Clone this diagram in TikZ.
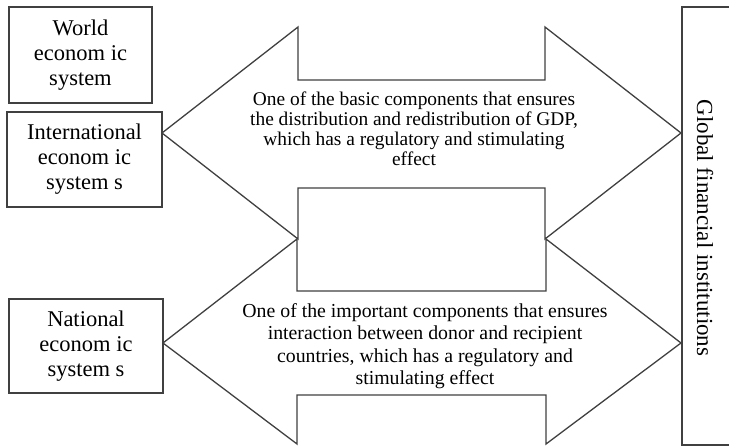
\documentclass[tikz,border=0pt]{standalone}
\usepackage{fontspec}
\setmainfont{Liberation Serif}
\usetikzlibrary{positioning}
\definecolor{Frame}{RGB}{64, 64, 64}

\tikzset{
    sysbox/.style={draw=Frame, line width=1.3pt, align=center, inner sep=0pt,
        font=\fontsize{22.5}{25}\selectfont},
    flowarrow/.style={draw=Frame, line width=1.3pt, fill=white, line join=miter},
    flowtext/.style={align=center, inner sep=0pt}
}

\begin{document}
\begin{tikzpicture}[x=1pt, y=-1pt]
    \useasboundingbox (0,0) rectangle (729,446);

    % two double-headed arrows
    \draw[flowarrow] (162,133) -- (298,27) -- (298,80) -- (545,80) -- (545,27) -- (681,133)
        -- (545,239) -- (545,188) -- (298,188) -- (298,239) -- cycle;
    \draw[flowarrow] (163,343) -- (297,239) -- (297,291) -- (546,291) -- (546,239) -- (681,343)
        -- (546,444) -- (546,395) -- (297,395) -- (297,444) -- cycle;

    % left side systems
    \node[sysbox, minimum width=143pt, minimum height=96pt] (world) at (80.5,55) {World\\econom ic\\system};
    \node[sysbox, minimum width=155pt, minimum height=95pt] (intl) at (84.5,159.5) {International\\econom ic\\system s};
    \node[sysbox, minimum width=154pt, minimum height=94pt] (natl) at (86,346) {National\\econom ic\\system s};

    % right side
    \node[draw=Frame, line width=1.3pt, minimum width=58pt, minimum height=438pt] (gfi) at (711,226) {};
    \node[rotate=-90, inner sep=0pt, font=\fontsize{23}{25}\selectfont] (gfitext) at (705,228) {Global financial institutions};

    % arrow texts
    \node[flowtext, font=\fontsize{19.4}{20}\selectfont] (upper) at (414,129)
        {One of the basic components that ensures\\the distribution and redistribution of GDP,\\which has a regulatory and stimulating\\effect};
    \node[flowtext, font=\fontsize{19.8}{22.5}\selectfont] (lower) at (425,346)
        {One of the important components that ensures\\interaction between donor and recipient\\countries, which has a regulatory and\\stimulating effect};
\end{tikzpicture}
\end{document}
